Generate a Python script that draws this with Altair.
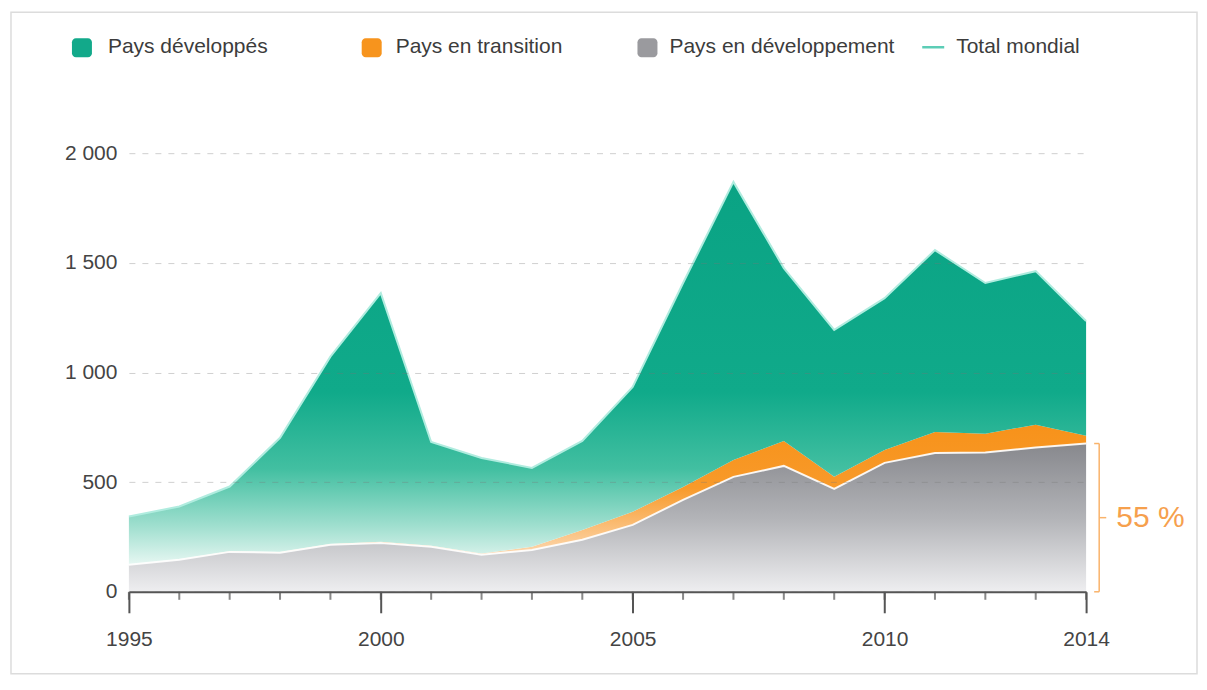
import altair as alt
import pandas as pd

# ---- data ----
years = list(range(1995, 2015))
total_mondial = [343, 389, 480, 702, 1072, 1362, 683, 610, 565, 688,
                 934, 1408, 1869, 1476, 1194, 1339, 1558, 1408, 1462, 1235]
pays_en_developpement = [123, 146, 182, 178, 214, 223, 205, 169, 191, 237,
                         305, 419, 524, 574, 469, 588, 633, 635, 658, 676]
pays_en_transition = [2, 2, 3, 3, 4, 5, 5, 6, 14, 45,
                      60, 59, 77, 114, 55, 59, 96, 86, 104, 36]
series_names = ["Pays développés", "Pays en transition",
                "Pays en développement", "Total mondial"]
x_tick_labels = [1995, 2000, 2005, 2010, 2014]
y_tick_values = [0, 500, 1000, 1500, 2000]

df = pd.DataFrame({
    "annee": years,
    "total": total_mondial,
    "dev": pays_en_developpement,
    "trans": pays_en_transition,
})
df["haut_trans"] = df["dev"] + df["trans"]

last_dev = pays_en_developpement[-1]
share_text = f"{round(100 * last_dev / total_mondial[-1])} %"

FONT = "Liberation Sans"
W, H = 958, 439

xscale = alt.Scale(domain=[1995, 2014], nice=False, zero=False)
yscale = alt.Scale(domain=[0, 2000], nice=False)

xaxis = alt.Axis(values=x_tick_labels, format="d", title=None, grid=False,
                 tickSize=21, tickWidth=2, tickColor="#555555",
                 domainColor="#555555", domainWidth=2,
                 labelPadding=16, labelFontSize=21, labelColor="#444444",
                 labelFont=FONT, labelFlush=False, zindex=1)
yaxis = alt.Axis(values=y_tick_values, title=None, domain=False, ticks=False,
                 labelExpr="replace(format(datum.value, ','), ',', ' ')",
                 labelPadding=12, labelFontSize=21, labelColor="#444444",
                 labelFont=FONT, grid=True, gridColor="#777777",
                 gridOpacity=0.35, gridDash=[6, 7], gridWidth=1, zindex=1)

X = alt.X("annee:Q", scale=xscale, axis=xaxis)


def Y(field):
    return alt.Y(field, scale=yscale, axis=yaxis)


def XD(v):
    return alt.X(datum=v, scale=xscale, axis=xaxis)


def YD(v):
    return alt.Y(datum=v, scale=yscale, axis=yaxis)


grad_gray = alt.Gradient(gradient="linear", x1=0, x2=0, y1=0, y2=1, stops=[
    alt.GradientStop(offset=0, color="#87888d"),
    alt.GradientStop(offset=0.5, color="#b2b3b7"),
    alt.GradientStop(offset=1, color="#eeeef0"),
])
grad_orange = alt.Gradient(gradient="linear", x1=0, x2=0, y1=0, y2=1, stops=[
    alt.GradientStop(offset=0, color="#f7921a"),
    alt.GradientStop(offset=0.45, color="#f89a2a"),
    alt.GradientStop(offset=1, color="#fde1c4"),
])
grad_green = alt.Gradient(gradient="linear", x1=0, x2=0, y1=0, y2=1, stops=[
    alt.GradientStop(offset=0, color="#0aa384"),
    alt.GradientStop(offset=0.55, color="#10aa8a"),
    alt.GradientStop(offset=0.75, color="#42bfa1"),
    alt.GradientStop(offset=0.9, color="#a0dfcf"),
    alt.GradientStop(offset=1, color="#e6f7f2"),
])

base = alt.Chart(df)

gray = base.mark_area(color=grad_gray).encode(x=X, y=Y("dev:Q"))
orange = base.mark_area(color=grad_orange).encode(
    x=X, y=Y("haut_trans:Q"), y2="dev:Q")
green = base.mark_area(color=grad_green).encode(
    x=X, y=Y("total:Q"), y2="haut_trans:Q")
white_edge = base.mark_line(color="white", strokeWidth=2, opacity=0.9).encode(
    x=X, y=Y("dev:Q"))
total_line = base.mark_line(color="#b0ecdf", strokeWidth=2).encode(
    x=X, y=Y("total:Q"))
minor_ticks = base.mark_tick(orient="vertical", size=8, thickness=2,
                             color="#555555", yOffset=4).encode(
    x=X, y=YD(0))

one = pd.DataFrame({"k": [0]})
BR = "#f9b36b"
br_x, br_in, br_out, txt_x = 2014.26, 2014.16, 2014.40, 2014.60
bracket_v = alt.Chart(one).mark_rule(color=BR, strokeWidth=1.5).encode(
    x=XD(br_x), y=YD(0), y2=alt.datum(last_dev))
bracket_top = alt.Chart(one).mark_rule(color=BR, strokeWidth=1.5).encode(
    x=XD(br_in), x2=alt.datum(br_x), y=YD(last_dev))
bracket_bot = alt.Chart(one).mark_rule(color=BR, strokeWidth=1.5).encode(
    x=XD(br_in), x2=alt.datum(br_x), y=YD(0))
bracket_mid = alt.Chart(one).mark_rule(color=BR, strokeWidth=1.5).encode(
    x=XD(br_x), x2=alt.datum(br_out), y=YD(last_dev / 2))
share = alt.Chart(one).mark_text(align="left", baseline="middle", fontSize=30,
                                 color="#f6a04d", font=FONT).encode(
    x=XD(txt_x), y=YD(last_dev / 2), text=alt.value(share_text))

# ---- legend (layout) ----
leg_colors = ["#12a98a", "#f7941d", "#9a9a9e"]
leg_sq_x = [-57, 233, 509]
leg_txt_x = [-21, 267, 541, 828]
leg_y = -106
legend_layers = []
for i in range(3):
    legend_layers.append(
        alt.Chart(one).mark_rect(color=leg_colors[i], cornerRadius=4).encode(
            x=alt.value(leg_sq_x[i]), x2=alt.value(leg_sq_x[i] + 20),
            y=alt.value(leg_y - 9), y2=alt.value(leg_y + 10)))
legend_layers.append(
    alt.Chart(one).mark_rule(color="#5ccdb6", strokeWidth=2.5).encode(
        x=alt.value(794), x2=alt.value(816), y=alt.value(leg_y)))
for i in range(4):
    legend_layers.append(
        alt.Chart(one).mark_text(align="left", baseline="middle", fontSize=21,
                                 color="#3c3c3c", font=FONT).encode(
            x=alt.value(leg_txt_x[i]), y=alt.value(leg_y),
            text=alt.value(series_names[i])))

frame = alt.Chart(one).mark_rect(fill="transparent", stroke="#dcdcdc",
                                 strokeWidth=1.5).encode(
    x=alt.value(-118), x2=alt.value(1069), y=alt.value(-141), y2=alt.value(521))

chart = alt.layer(
    frame, gray, orange, green, white_edge, total_line, minor_ticks,
    bracket_v, bracket_top, bracket_bot, bracket_mid, share, *legend_layers
).properties(
    width=W, height=H,
    padding={"left": 121, "top": 145, "right": 113, "bottom": 90},
    autosize=alt.AutoSizeParams(type="none"),
    background="white",
).configure(font=FONT).configure_view(stroke="transparent", strokeWidth=0).configure_axisX(grid=False)

chart.save("out.html", embed_options={"renderer": "svg", "actions": False})
